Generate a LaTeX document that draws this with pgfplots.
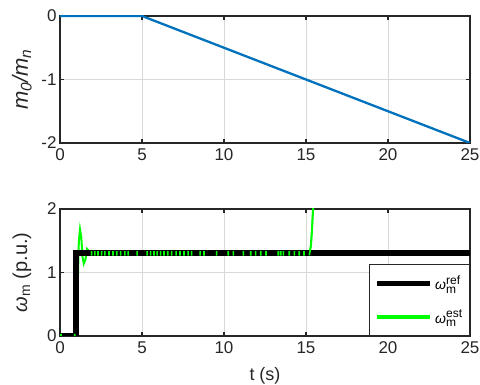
\documentclass[border=0pt]{standalone}
\usepackage{pgfplots}
\pgfplotsset{compat=1.18}
\usepackage{fontspec}
\setmainfont{Liberation Sans}
\setsansfont{Liberation Sans}
\definecolor{mblue}{RGB}{0,114,189}
\definecolor{mgreen}{RGB}{0,255,0}
\definecolor{axgray}{RGB}{38,38,38}
\newcommand{\wlab}[1]{$\mbox{\itshape ω}^{\mbox{\fontsize{12}{12}\selectfont #1}}_{\mbox{\fontsize{12}{12}\selectfont m}}$}
\begin{document}
\begin{tikzpicture}[x=1pt,y=1pt]
\pgfplotsset{
  common/.style={
    scale only axis, width=410pt, height=127pt,
    xmin=0, xmax=25, xtick={0,5,10,15,20,25},
    grid=major, major grid style={gray!30, line width=0.8pt},
    axis line style={axgray, line width=1.1pt},
    tick style={axgray, line width=1.1pt},
    tick align=inside, major tick length=4pt,
    xtick pos=both, ytick pos=both,
    tick label style={font=\fontsize{17}{17}\selectfont, text=axgray},
    xticklabel style={yshift=-2pt},
    /pgf/number format/assume math mode=true,
    label style={font=\fontsize{18}{18}\selectfont, text=axgray},
    ylabel style={at={(axis description cs:-0.093,0.5)}, anchor=center},
  }
}
\begin{axis}[common, at={(0,193pt)}, anchor=south west,
  ymin=-2, ymax=0, ytick={-2,-1,0},
  ylabel={\fontsize{22}{22}\selectfont\itshape m\textsubscript{0}/m\textsubscript{n}}]
\addplot[mblue, line width=2.3pt] coordinates {(0,0) (5,0) (25,-2)};
\end{axis}
\begin{axis}[common, at={(0,0)}, anchor=south west,
  ymin=0, ymax=2, ytick={0,1,2},
  ylabel={\fontsize{20}{20}\selectfont\mbox{\itshape ω}\textsubscript{m} (p.u.)},
  xlabel={t (s)}, xlabel style={at={(axis description cs:0.5,-0.31)}, anchor=center},
  unbounded coords=jump,
  legend style={draw=axgray, line width=0.8pt, fill=white, font=\fontsize{14}{14}\selectfont, row sep=15pt, inner xsep=5pt, inner ysep=9pt, at={(1,0)}, anchor=south east},
  legend cell align=left]
\addplot[mgreen, line width=2pt, forget plot] coordinates {
(0,0) (1.0,0) (1.05,0.3) (1.1,1.0) (1.15,1.5) (1.22,1.68) (1.3,1.55) (1.37,1.25) (1.45,1.14) (1.55,1.2) (1.65,1.37) (1.75,1.34) (1.85,1.28) (1.95,1.3)
(15.2,1.3) (15.3,1.42) (15.37,1.7) (15.45,2.1)};
\addplot[black, line width=6pt, line cap=butt, line join=miter,
  legend image code/.code={\draw[black, line width=5.5pt] (0pt,0pt) -- (53pt,0pt);}]
  coordinates {(0,0) (1,0) (1,1.3) (25,1.3)};
\addlegendentry{\wlab{ref}}
\addplot[mgreen, line width=1.6pt, forget plot] coordinates {
(0.06,-0.035) (0.06,0.035) (0.06,nan)
(0.9,-0.035) (0.9,0.035) (0.9,nan)
(1.93,1.265) (1.93,1.335) (1.93,nan)
(2.13,1.265) (2.13,1.335) (2.13,nan)
(2.32,1.265) (2.32,1.335) (2.32,nan)
(2.54,1.265) (2.54,1.335) (2.54,nan)
(2.74,1.265) (2.74,1.335) (2.74,nan)
(2.99,1.265) (2.99,1.335) (2.99,nan)
(3.23,1.265) (3.23,1.335) (3.23,nan)
(3.46,1.265) (3.46,1.335) (3.46,nan)
(3.70,1.265) (3.70,1.335) (3.70,nan)
(3.96,1.265) (3.96,1.335) (3.96,nan)
(4.15,1.265) (4.15,1.335) (4.15,nan)
(4.70,1.265) (4.70,1.335) (4.70,nan)
(5.31,1.265) (5.31,1.335) (5.31,nan)
(5.53,1.265) (5.53,1.335) (5.53,nan)
(5.73,1.265) (5.73,1.335) (5.73,nan)
(5.92,1.265) (5.92,1.335) (5.92,nan)
(6.14,1.265) (6.14,1.335) (6.14,nan)
(6.34,1.265) (6.34,1.335) (6.34,nan)
(6.57,1.265) (6.57,1.335) (6.57,nan)
(6.81,1.265) (6.81,1.335) (6.81,nan)
(7.08,1.265) (7.08,1.335) (7.08,nan)
(7.32,1.265) (7.32,1.335) (7.32,nan)
(7.56,1.265) (7.56,1.335) (7.56,nan)
(7.81,1.265) (7.81,1.335) (7.81,nan)
(8.03,1.265) (8.03,1.335) (8.03,nan)
(8.54,1.265) (8.54,1.335) (8.54,nan)
(8.78,1.265) (8.78,1.335) (8.78,nan)
(9.55,1.265) (9.55,1.335) (9.55,nan)
(10.26,1.265) (10.26,1.335) (10.26,nan)
(10.57,1.265) (10.57,1.335) (10.57,nan)
(11.18,1.265) (11.18,1.335) (11.18,nan)
(11.63,1.265) (11.63,1.335) (11.63,nan)
(11.93,1.265) (11.93,1.335) (11.93,nan)
(12.24,1.265) (12.24,1.335) (12.24,nan)
(12.56,1.265) (12.56,1.335) (12.56,nan)
(13.31,1.265) (13.31,1.335) (13.31,nan)
(13.46,1.265) (13.46,1.335) (13.46,nan)
(13.62,1.265) (13.62,1.335) (13.62,nan)
(13.98,1.265) (13.98,1.335) (13.98,nan)
(14.29,1.265) (14.29,1.335) (14.29,nan)
(14.59,1.265) (14.59,1.335) (14.59,nan)
(14.88,1.265) (14.88,1.335) (14.88,nan)
(15.2,1.27) (15.3,1.42) (15.37,1.7) (15.45,2.1)};
\addlegendimage{legend image code/.code={\draw[mgreen, line width=4pt] (0pt,0pt) -- (53pt,0pt);}}
\addlegendentry{\wlab{est}}
\end{axis}
\pgfresetboundingbox
\path (-60pt,-49pt) rectangle (420pt,336pt);
\end{tikzpicture}
\end{document}
